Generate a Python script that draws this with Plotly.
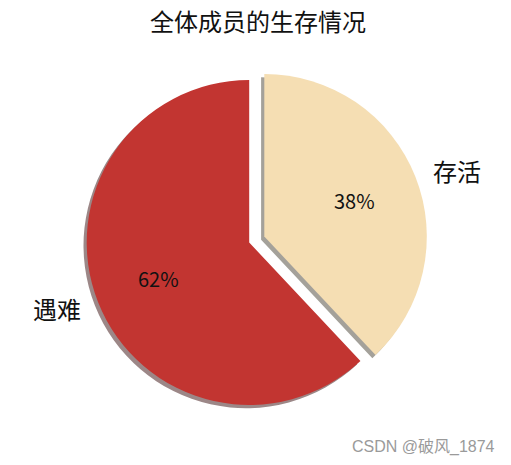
import math
import plotly.graph_objects as go

labels = ["遇难", "存活"]
values = [62, 38]
colors = ["#c23531", "#f5deb3"]
shadow_colors = ["#9c8787", "#a4a19a"]
explode = [0, 0.1]
title_text = "全体成员的生存情况"
watermark = "CSDN @破风_1874"

W, H = 511, 465
cx, cy, r = 249.2, 242.5, 162.5
half = r * (1 + max(explode))
dom_x = [(cx - half) / W, (cx + half) / W]
dom_y = [(H - cy - half) / H, (H - cy + half) / H]
sx, sy = -3.2 / W, -3.2 / H

cjk = "Noto Sans CJK SC"
# matplotlib-style: start at 12 o'clock, counterclockwise -> plotly clockwise with reversed order
common = dict(labels=labels[::-1], values=values[::-1], sort=False, direction="clockwise",
              rotation=0, pull=explode[::-1], hoverinfo="skip", showlegend=False,
              textinfo="none")

fig = go.Figure()
fig.add_trace(go.Pie(**common, marker=dict(colors=shadow_colors[::-1], line=dict(width=0)),
                     domain=dict(x=[dom_x[0] + sx, dom_x[1] + sx], y=[dom_y[0] + sy, dom_y[1] + sy])))
fig.add_trace(go.Pie(**common, marker=dict(colors=colors[::-1], line=dict(width=0)),
                     domain=dict(x=dom_x, y=dom_y)))

# text positions derived from the values (pctdistance 0.6, labeldistance 1.1)
annotations = []
total = sum(values)
start = 90.0
for lab, v, ex in zip(labels, values, explode):
    span = 360.0 * v / total
    mid = math.radians(start + span / 2)
    start += span
    ccx = cx + ex * r * math.cos(mid)
    ccy = cy - ex * r * math.sin(mid)
    px = ccx + 0.6 * r * math.cos(mid)
    py = ccy - 0.6 * r * math.sin(mid)
    lx = ccx + 1.1 * r * math.cos(mid)
    ly = ccy - 1.1 * r * math.sin(mid)
    annotations.append(dict(text=f"{round(100 * v / total)}%", x=px / W, y=1 - py / H,
                            xref="paper", yref="paper", xanchor="center", yanchor="middle",
                            showarrow=False, font=dict(family=cjk, size=20, color="#111111")))
    annotations.append(dict(text=lab, x=lx / W, y=1 - ly / H, xref="paper", yref="paper",
                            xanchor="left" if math.cos(mid) > 0 else "right", yanchor="middle",
                            showarrow=False, font=dict(family=cjk, size=24, color="#111111")))

annotations.append(dict(text=watermark, x=423 / W, y=1 - 447 / H, xref="paper", yref="paper",
                        xanchor="center", yanchor="middle", showarrow=False,
                        font=dict(family="Liberation Sans, " + cjk, size=16, color="#9a9a9a")))

fig.update_layout(
    width=W, height=H,
    margin=dict(l=0, r=0, t=0, b=0),
    paper_bgcolor="white", plot_bgcolor="white",
    title=dict(text=title_text, x=258 / W, xanchor="center", y=1 - 23 / H, yanchor="middle",
               font=dict(family=cjk, size=24, color="#111111")),
    annotations=annotations,
)
fig.write_html("out.html", config={"displayModeBar": False},
               post_script="document.body.style.margin='0';")
